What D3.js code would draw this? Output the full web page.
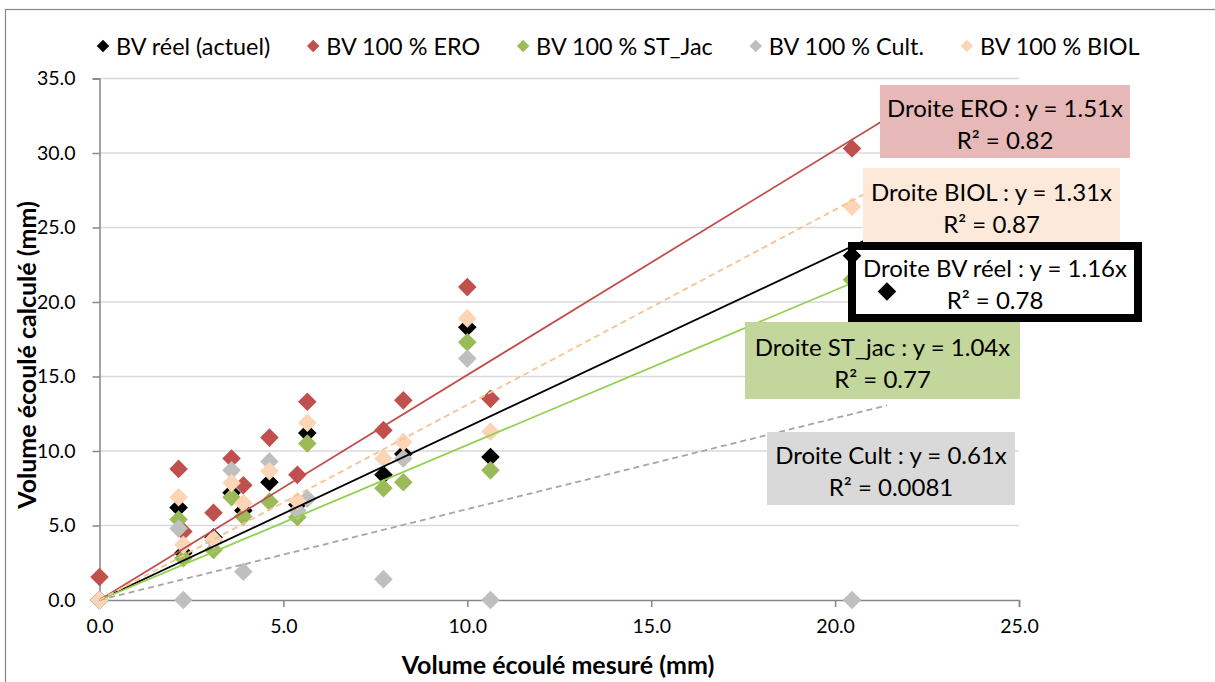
<!DOCTYPE html>
<html>
<head>
<meta charset="utf-8">
<script src="https://cdn.jsdelivr.net/npm/d3@7"></script>
<style>
  body { margin: 0; background: #fff; }
  svg text { font-family: Lato, "Liberation Sans", sans-serif; }
</style>
</head>
<body>
<div id="chart"></div>
<script>
// measured runoff (x) for each event
const measured = [0, 2.15, 2.28, 3.1, 3.59, 3.91, 4.62, 5.38, 5.65, 7.72, 8.26, 10.0, 10.63, 20.46, 21.41];
// computed runoff for each scenario
const bvReel = [0, 6.2, 3.15, 4.2, 7.2, 6.0, 7.9, 6.4, 11.2, 8.4, 9.8, 18.3, 9.6, 23.1, 20.7];
const ero    = [1.54, 8.8, 4.6, 5.85, 9.5, 7.7, 10.9, 8.4, 13.3, 11.4, 13.4, 21.0, 13.5, 30.3, 27.6];
const stJac  = [0, 5.4, 2.8, 3.35, 6.9, 5.6, 6.6, 5.55, 10.5, 7.5, 7.9, 17.3, 8.7, 21.5, 19.5];
const cult   = [0, 4.8, 0, 4.0, 8.7, 1.9, 9.3, 6.0, 6.8, 1.4, 9.5, 16.2, 0, 0, 18.7];
const biol   = [0, 6.9, 3.7, 4.1, 7.85, 6.5, 8.65, 6.65, 11.9, 9.5, 10.6, 18.9, 11.3, 26.4, 24.5];

const seriesNames = ["BV réel (actuel)", "BV 100 % ERO", "BV 100 % ST_Jac", "BV 100 % Cult.", "BV 100 % BIOL"];
const trendNames = ["Droite BV réel", "Droite ERO", "Droite ST_jac", "Droite Cult", "Droite BIOL"];
const slopes = [1.16, 1.51, 1.04, 0.61, 1.31];
const r2 = ["0.78", "0.82", "0.77", "0.0081", "0.87"];

const xTicks = [0, 5, 10, 15, 20, 25];
const yTicks = [0, 5, 10, 15, 20, 25, 30, 35];

const values = [bvReel, ero, stJac, cult, biol];
const markerColors = ["#000000", "#C0504D", "#9BBB59", "#BFBFBF", "#FBD5B5"];
const lineColors = ["#000000", "#C0504D", "#92D050", "#A6A6A6", "#FAC090"];
const lineDash = [null, null, null, "6,4", "6,4"];

const W = 1215, H = 682;
const svg = d3.select("#chart").append("svg")
    .attr("width", W)
    .attr("height", H);

// outer chart frame
svg.append("rect")
    .attr("x", 5.5).attr("y", 9.5)
    .attr("width", W + 20).attr("height", H + 20)
    .attr("fill", "none")
    .attr("stroke", "#868686")
    .attr("stroke-width", 1.2);

const x = d3.scaleLinear().domain([0, 25]).range([99.5, 1019]);
const y = d3.scaleLinear().domain([0, 35]).range([600, 78.5]);

// gridlines
svg.append("g")
    .selectAll("line")
    .data(yTicks.slice(1))
    .join("line")
    .attr("x1", x(0)).attr("x2", x(25))
    .attr("y1", d => y(d)).attr("y2", d => y(d))
    .attr("stroke", "#D9D9D9")
    .attr("stroke-width", 1.5);

// axes
const fmt = d3.format(".1f");
const xAxis = svg.append("g")
    .attr("transform", `translate(0,${y(0)})`)
    .call(d3.axisBottom(x).tickValues(xTicks).tickFormat(fmt).tickSize(7).tickPadding(12));
const yAxis = svg.append("g")
    .attr("transform", `translate(${x(0)},0)`)
    .call(d3.axisLeft(y).tickValues(yTicks).tickFormat(fmt).tickSize(7).tickPadding(17));
[xAxis, yAxis].forEach(a => {
    a.select(".domain").attr("stroke", "#868686").attr("stroke-width", 1.5);
    a.selectAll(".tick line").attr("stroke", "#868686").attr("stroke-width", 1.5);
    a.selectAll("text").attr("fill", "#000").style("font-size", "19.5px").style("font-family", "Lato, sans-serif");
});

// axis titles
svg.append("text")
    .attr("x", 558).attr("y", 674)
    .attr("text-anchor", "middle")
    .style("font-size", "25px").style("font-weight", "bold")
    .text("Volume écoulé mesuré (mm)");
svg.append("text")
    .attr("transform", "translate(36,355) rotate(-90)")
    .attr("text-anchor", "middle")
    .style("font-size", "25px").style("font-weight", "bold")
    .text("Volume écoulé calculé (mm)");

const diamond = d3.symbol().type(d3.symbolDiamond2).size(220);

// markers, series in legend order (later ones on top)
values.forEach((vals, i) => {
    svg.append("g")
        .selectAll("path")
        .data(measured.map((m, j) => [m, vals[j]]))
        .join("path")
        .attr("transform", d => `translate(${x(d[0])},${y(d[1])})`)
        .attr("d", diamond)
        .attr("fill", markerColors[i]);
});

// linear trend lines through origin
const xMax = d3.max(measured);
slopes.forEach((s, i) => {
    svg.append("line")
        .attr("x1", x(0)).attr("y1", y(0))
        .attr("x2", x(xMax)).attr("y2", y(s * xMax))
        .attr("stroke", lineColors[i])
        .attr("stroke-width", 1.8)
        .attr("stroke-dasharray", lineDash[i]);
});

// trendline labels
const boxes = [
    { i: 1, x0: 880, y0: 85, x1: 1130, y1: 158, fill: "#E6B9B8" },
    { i: 4, x0: 863, y0: 168, x1: 1120, y1: 243, fill: "#FDE9D9" },
    { i: 0, x0: 852, y0: 246, x1: 1138, y1: 318, fill: "#FFFFFF", stroke: "#000", sw: 8 },
    { i: 2, x0: 745, y0: 322, x1: 1020, y1: 399, fill: "#C3D69B" },
    { i: 3, x0: 767, y0: 432, x1: 1015, y1: 505, fill: "#D9D9D9" }
];
boxes.forEach(b => {
    const g = svg.append("g");
    g.append("rect")
        .attr("x", b.x0).attr("y", b.y0)
        .attr("width", b.x1 - b.x0).attr("height", b.y1 - b.y0)
        .attr("fill", b.fill)
        .attr("stroke", b.stroke || "none")
        .attr("stroke-width", b.sw || 0);
    const cx = (b.x0 + b.x1) / 2;
    const cy = (b.y0 + b.y1) / 2;
    g.append("text")
        .attr("x", cx).attr("y", cy - 5)
        .attr("text-anchor", "middle")
        .style("font-size", "24px")
        .text(`${trendNames[b.i]} : y = ${slopes[b.i].toFixed(2)}x`);
    g.append("text")
        .attr("x", cx).attr("y", cy + 27)
        .attr("text-anchor", "middle")
        .style("font-size", "24px")
        .text(`R² = ${r2[b.i]}`);
});

// black series shows above its own label box
const clipB = boxes.find(b => b.i === 0);
svg.append("clipPath").attr("id", "clipB")
    .append("rect")
    .attr("x", clipB.x0 - 4).attr("y", clipB.y0 - 4)
    .attr("width", clipB.x1 - clipB.x0 + 8).attr("height", clipB.y1 - clipB.y0 + 8);
svg.append("g")
    .attr("clip-path", "url(#clipB)")
    .selectAll("path")
    .data(measured.map((m, j) => [m, bvReel[j]]))
    .join("path")
    .attr("transform", d => `translate(${x(d[0])},${y(d[1])})`)
    .attr("d", diamond)
    .attr("fill", markerColors[0]);

// legend
const legend = svg.append("g").attr("transform", "translate(96,46)");
let lx = 0;
seriesNames.forEach((name, i) => {
    const item = legend.append("g").attr("transform", `translate(${lx},0)`);
    item.append("path")
        .attr("transform", "translate(7,0)")
        .attr("d", d3.symbol().type(d3.symbolDiamond2).size(100))
        .attr("fill", markerColors[i]);
    const t = item.append("text")
        .attr("x", 20).attr("y", 9)
        .style("font-size", "23.4px")
        .text(name);
    lx += 20 + t.node().getComputedTextLength() + 36;
});
</script>
</body>
</html>
